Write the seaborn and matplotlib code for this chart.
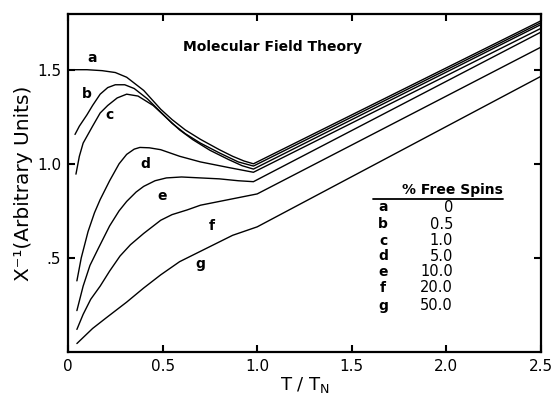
import numpy as np
import pandas as pd
import matplotlib
matplotlib.use("Agg")
import matplotlib.pyplot as plt
import seaborn as sns

# ---- data ----
a_x = [0.0, 0.10, 0.18, 0.25, 0.31, 0.40, 0.49, 0.55, 0.62, 0.70, 0.80, 0.87, 0.93, 0.98, 2.5]
a_y = [1.50, 1.50, 1.495, 1.485, 1.46, 1.39, 1.29, 1.235, 1.18, 1.13, 1.075, 1.04, 1.015, 1.0, 1.76]

b_x = [0.037, 0.06, 0.10, 0.13, 0.17, 0.21, 0.25, 0.30, 0.35, 0.42, 0.49, 0.55, 0.62, 0.70, 0.80, 0.90, 0.98, 2.5]
b_y = [1.156, 1.20, 1.26, 1.31, 1.37, 1.405, 1.42, 1.42, 1.40, 1.345, 1.275, 1.215, 1.16, 1.11, 1.058, 1.01, 0.988, 1.75]

c_x = [0.042, 0.06, 0.08, 0.13, 0.17, 0.21, 0.26, 0.31, 0.37, 0.45, 0.52, 0.59, 0.66, 0.75, 0.85, 0.92, 0.98, 2.5]
c_y = [0.945, 1.04, 1.11, 1.20, 1.27, 1.31, 1.35, 1.37, 1.36, 1.31, 1.245, 1.18, 1.128, 1.072, 1.022, 0.99, 0.972, 1.74]

d_x = [0.047, 0.07, 0.106, 0.14, 0.17, 0.22, 0.27, 0.31, 0.35, 0.38, 0.43, 0.49, 0.59, 0.70, 0.85, 0.98, 2.5]
d_y = [0.378, 0.50, 0.64, 0.74, 0.81, 0.91, 1.00, 1.05, 1.078, 1.087, 1.085, 1.075, 1.04, 1.01, 0.98, 0.955, 1.72]

e_x = [0.047, 0.08, 0.116, 0.16, 0.22, 0.27, 0.31, 0.36, 0.40, 0.46, 0.52, 0.60, 0.70, 0.80, 0.90, 0.98, 2.5]
e_y = [0.22, 0.35, 0.46, 0.55, 0.67, 0.75, 0.80, 0.85, 0.88, 0.91, 0.925, 0.93, 0.925, 0.92, 0.91, 0.905, 1.70]

f_x = [0.047, 0.08, 0.12, 0.17, 0.22, 0.275, 0.33, 0.40, 0.49, 0.55, 0.63, 0.70, 0.80, 0.90, 1.0, 2.5]
f_y = [0.12, 0.20, 0.28, 0.35, 0.43, 0.51, 0.57, 0.63, 0.70, 0.73, 0.755, 0.78, 0.80, 0.82, 0.84, 1.62]

g_x = [0.047, 0.13, 0.20, 0.31, 0.40, 0.49, 0.59, 0.66, 0.75, 0.87, 1.0, 2.5]
g_y = [0.045, 0.125, 0.18, 0.265, 0.34, 0.41, 0.48, 0.515, 0.56, 0.62, 0.665, 1.465]

curve_names = ["a", "b", "c", "d", "e", "f", "g"]
free_spins = ["0", "0.5", "1.0", "5.0", "10.0", "20.0", "50.0"]

x_ticks = [0, 0.5, 1.0, 1.5, 2.0, 2.5]
x_ticklabels = ["0", "0.5", "1.0", "1.5", "2.0", "2.5"]
y_ticks = [0.5, 1.0, 1.5]
y_ticklabels = [".5", "1.0", "1.5"]

# curve label positions (data coords)
label_x = [0.13, 0.10, 0.22, 0.41, 0.50, 0.76, 0.70]
label_y = [1.56, 1.37, 1.26, 1.00, 0.83, 0.67, 0.47]

series = {
    "a": (a_x, a_y), "b": (b_x, b_y), "c": (c_x, c_y), "d": (d_x, d_y),
    "e": (e_x, e_y), "f": (f_x, f_y), "g": (g_x, g_y),
}
frames = []
for name in curve_names:
    xs, ys = series[name]
    frames.append(pd.DataFrame({"T": xs, "chi": ys, "curve": name}))
df = pd.concat(frames, ignore_index=True)

sns.set_style("ticks")
plt.rcParams["font.family"] = ["DejaVu Sans"]
plt.rcParams["text.color"] = "black"
plt.rcParams["axes.labelcolor"] = "black"
plt.rcParams["xtick.color"] = "black"
plt.rcParams["ytick.color"] = "black"

fig = plt.figure(figsize=(5.52, 3.96), dpi=100)
ax = fig.add_axes([68 / 552, 1 - 352 / 396, (541 - 68) / 552, (352 - 14) / 396])

sns.lineplot(data=df, x="T", y="chi", hue="curve", units="curve", estimator=None,
             sort=False, palette=["black"] * 7, linewidth=1.0, legend=False, ax=ax)

ax.set_xlim(0, 2.5)
ax.set_ylim(0, 1.796)
ax.set_xticks(x_ticks)
ax.set_xticklabels(x_ticklabels, fontsize=11)
ax.set_yticks(y_ticks)
ax.set_yticklabels(y_ticklabels, fontsize=11)
ax.tick_params(direction="in", length=5, width=1.5, top=True, right=True, pad=5)
for s in ax.spines.values():
    s.set_linewidth(1.6)
    s.set_color("black")

ax.set_xlabel("T / T$_\\mathregular{N}$", fontsize=13, labelpad=1)
ax.set_ylabel("X\u207b\u00b9(Arbitrary Units)", fontsize=14.5, labelpad=3)

ax.text(1.08, 1.62, "Molecular Field Theory", fontsize=10, fontweight="bold",
        ha="center", va="center")

for name, lx, ly in zip(curve_names, label_x, label_y):
    ax.text(lx, ly, name, fontsize=10, fontweight="bold", ha="center", va="center")

# free-spin table
ax.text(2.03, 0.86, "% Free Spins", fontsize=10, fontweight="bold", ha="center", va="center")
ax.plot([1.61, 2.30], [0.812, 0.812], color="black", linewidth=1.3)
row_y = [0.77, 0.68, 0.59, 0.51, 0.426, 0.341, 0.246]
for name, val, ry in zip(curve_names, free_spins, row_y):
    ax.text(1.665, ry, name, fontsize=10, fontweight="bold", ha="center", va="center")
    ax.text(2.035, ry, val, fontsize=10.5, ha="right", va="center")

fig.savefig("out.png", dpi=100)
